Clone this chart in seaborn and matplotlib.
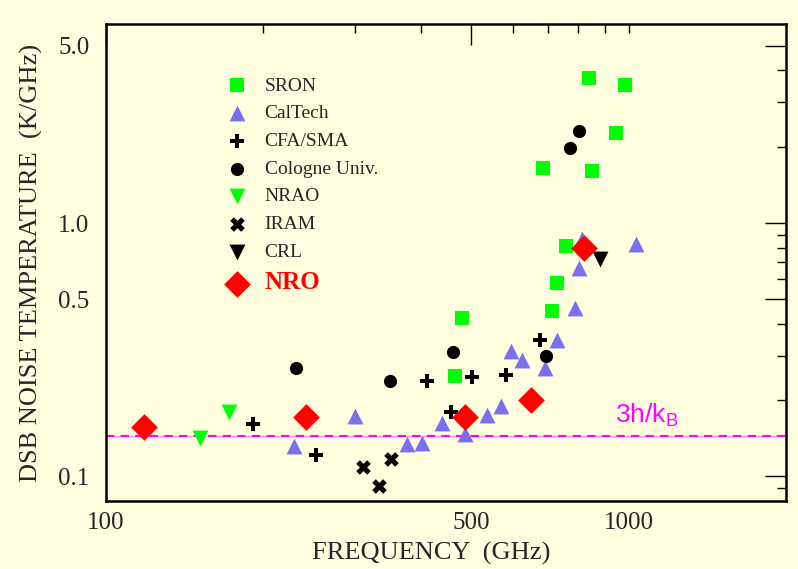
import matplotlib
matplotlib.use("Agg")
import matplotlib.pyplot as plt
from matplotlib.ticker import NullFormatter
import seaborn as sns

# DSB noise temperature of SIS mixers, frequency in GHz, T in K/GHz
sron_f = [465, 480, 685, 715, 730, 760, 840, 850, 945, 985]
sron_t = [0.248, 0.421, 1.65, 0.448, 0.578, 0.811, 3.75, 1.61, 2.26, 3.51]

caltech_f = [229, 300, 377, 403, 440, 486, 536, 571, 596, 625, 691, 729, 790, 805, 816, 1032]
caltech_t = [0.132, 0.173, 0.134, 0.135, 0.163, 0.147, 0.174, 0.190, 0.312, 0.287,
             0.267, 0.344, 0.461, 0.662, 0.865, 0.826]

cfa_f = [191, 252, 412, 457, 501, 582, 676]
cfa_t = [0.1605, 0.122, 0.238, 0.180, 0.246, 0.251, 0.346]

cologne_f = [231, 350, 462, 694, 772, 804]
cologne_t = [0.267, 0.239, 0.311, 0.299, 1.97, 2.30]

nrao_f = [151, 172]
nrao_t = [0.142, 0.180]

iram_f = [310, 333, 351]
iram_t = [0.109, 0.0916, 0.117]

crl_f = [883]
crl_t = [0.72]

nro_f = [118, 241, 486, 652, 823]
nro_t = [0.157, 0.171, 0.171, 0.200, 0.80]

quantum_limit = 0.144  # 3h/kB in K/GHz

BG = "#FFFFE0"
sns.set_style("white")
plt.rcParams["font.family"] = ["Liberation Serif", "DejaVu Serif"]
plt.rcParams["mathtext.fontset"] = "custom"
plt.rcParams["mathtext.rm"] = "Liberation Sans"

fig = plt.figure(figsize=(7.98, 5.69), dpi=100, facecolor=BG)
ax = fig.add_axes([0.1328, 0.1195, 0.852, 0.8383])
ax.set_facecolor(BG)
ax.set_xscale("log")
ax.set_yscale("log")

# quantum limit line
ax.axhline(quantum_limit, color="#ff99ff", lw=1.0, zorder=1)
ax.axhline(quantum_limit, color="#ff00ff", lw=1.5, ls=(0, (4, 3)), zorder=1)
ax.text(944, 0.163, r"3h/k$_\mathrm{B}$", color="#ff00ff", fontsize=19,
        family="Liberation Sans", va="baseline")

groups = [
    ("SRON", sron_f, sron_t, "s", "#00ff00", 100),
    ("CalTech", caltech_f, caltech_t, "^", "#7b6fee", 130),
    ("CFA/SMA", cfa_f, cfa_t, "P", "black", 110),
    ("Cologne Univ.", cologne_f, cologne_t, "o", "black", 90),
    ("NRAO", nrao_f, nrao_t, "v", "#00ff00", 130),
    ("IRAM", iram_f, iram_t, "X", "black", 110),
    ("CRL", crl_f, crl_t, "v", "black", 130),
    ("NRO", nro_f, nro_t, "D", "red", 185),
]
for name, f, t, m, c, s in groups:
    sns.scatterplot(x=f, y=t, marker=m, color=c, s=s, linewidth=0,
                    label=name, ax=ax, zorder=3)

ax.set_xlim(100, 2000)
ax.set_ylim(0.08, 6.1)

ax.set_xticks([100, 500, 1000], labels=["100", "500", "1000"])
ax.set_xticks([200, 300, 400, 600, 700, 800, 900], minor=True)
ax.set_yticks([0.1, 0.5, 1.0, 5.0], labels=["0.1", "0.5", "1.0", "5.0"])
ax.set_yticks([0.09, 0.2, 0.3, 0.4, 0.6, 0.7, 0.8, 0.9, 2, 3, 4], minor=True)
ax.xaxis.set_minor_formatter(NullFormatter())
ax.yaxis.set_minor_formatter(NullFormatter())

ax.tick_params(which="both", direction="in", top=True, right=True,
               color="black", width=1.0, labelsize=18)
ax.tick_params(which="major", length=15)
ax.tick_params(which="minor", length=6.5)
ax.tick_params(axis="y", pad=12)
ax.tick_params(axis="x", pad=8)
t1000 = ax.xaxis.get_major_ticks()[2]
t1000.tick1line.set_markersize(6.5)
t1000.tick2line.set_markersize(6.5)

for sp in ax.spines.values():
    sp.set_color("black")
    sp.set_linewidth(1.8)

ax.set_xlabel("FREQUENCY  (GHz)", fontsize=19)
ax.set_ylabel("DSB NOISE TEMPERATURE  (K/GHz)", fontsize=19)
ax.xaxis.set_label_coords(0.478, -0.085)
ax.yaxis.set_label_coords(-0.092, 0.5)

leg = ax.legend(loc="upper left", bbox_to_anchor=(0.179, 0.889), frameon=False,
                fontsize=14, handlelength=1.0, handletextpad=0.9,
                labelspacing=0.52, borderpad=0, borderaxespad=0, scatterpoints=1)
for txt in leg.get_texts():
    if txt.get_text() == "NRO":
        txt.set_color("red")
        txt.set_fontweight("bold")
        txt.set_fontsize(18)

fig.savefig("out.png", dpi=100, facecolor=BG)
